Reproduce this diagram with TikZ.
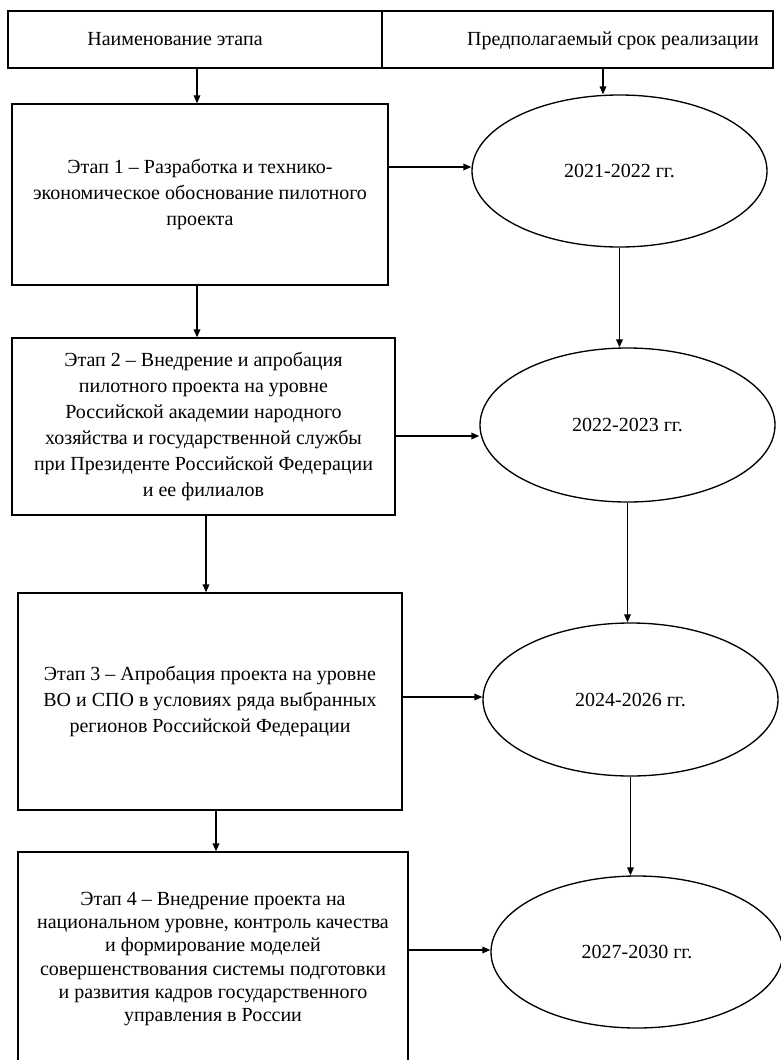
\documentclass[tikz,border=0pt]{standalone}
\usepackage{fontspec}
\setmainfont{Liberation Serif}
\usetikzlibrary{arrows.meta,shapes.geometric}
\tikzset{
  ln/.style={draw=black, line width=1pt},
  cell/.style={ln, rectangle, inner sep=0pt},
  stagebox/.style={ln, rectangle, inner sep=0pt, align=center, font=\fontsize{15}{19.5}\selectfont},
  period/.style={ln, ellipse, inner sep=0pt, font=\fontsize{15}{18}\selectfont},
  lbl/.style={inner sep=0pt, anchor=base, font=\fontsize{15}{18}\selectfont},
  arr/.style={ln, -{Triangle[length=6pt,width=5pt]}}
}
\begin{document}
\begin{tikzpicture}[x=0.75pt, y=-0.75pt]
\useasboundingbox (0,0) rectangle (781,1060);
\clip (0,0) rectangle (781,1060);
% header
\node[cell, minimum width=280.5pt, minimum height=42.75pt] (hL) at (195,39.5) {};
\node[cell, minimum width=293.25pt, minimum height=42.75pt] (hR) at (577.5,39.5) {};
\node[lbl] (hLt) at (175,45) {Наименование этапа};
\node[lbl] (hRt) at (613,45) {Предполагаемый срок реализации};
% stage boxes
\node[stagebox, minimum width=282pt, minimum height=135.75pt] (b1) at (200,194.5)
  {Этап 1 – Разработка и технико-\\экономическое обоснование пилотного\\проекта};
\node[stagebox, minimum width=287.25pt, minimum height=132.75pt] (b2) at (203.5,426.5)
  {Этап 2 – Внедрение и апробация\\пилотного проекта на уровне\\Российской академии народного\\хозяйства и государственной службы\\при Президенте Российской Федерации\\и ее филиалов};
\node[stagebox, minimum width=288pt, minimum height=162.75pt] (b3) at (210,701.5)
  {Этап 3 – Апробация проекта на уровне\\ВО и СПО в условиях ряда выбранных\\регионов Российской Федерации};
\node[stagebox, minimum width=292.5pt, minimum height=160.5pt, font=\fontsize{15}{17.4}\selectfont] (b4) at (213,959)
  {Этап 4 – Внедрение проекта на\\национальном уровне, контроль качества\\и формирование моделей\\совершенствования системы подготовки\\и развития кадров государственного\\управления в России};
% period ellipses
\node[period, minimum width=221.25pt, minimum height=114pt] (e1) at (619.5,171) {2021-2022 гг.};
\node[period, minimum width=221.25pt, minimum height=115.5pt] (e2) at (627.5,425) {2022-2023 гг.};
\node[period, minimum width=221.25pt, minimum height=114.75pt] (e3) at (630.5,699.5) {2024-2026 гг.};
\node[period, minimum width=219pt, minimum height=114pt] (e4) at (637,952) {2027-2030 гг.};
% arrows from header
\draw[arr] (hL.south -| 197,0) -- (b1.north -| 197,0);
\draw[arr] (hR.south -| 603,0) -- (e1.north -| 603,0);
% stage to stage
\draw[arr] (b1.south -| 197,0) -- (b2.north -| 197,0);
\draw[arr] (b2.south -| 206,0) -- (b3.north -| 206,0);
\draw[arr] (b3.south -| 216,0) -- (b4.north -| 216,0);
% period to period
\draw[arr] (e1.south) -- (e1.south |- e2.north);
\draw[arr] (e2.south) -- (e2.south |- e3.north);
\draw[arr] (e3.south) -- (e3.south |- e4.north);
% stage to period
\draw[arr] (b1.east |- 0,167) -- (e1.west |- 0,167);
\draw[arr] (b2.east |- 0,436) -- (e2.west |- 0,436);
\draw[arr] (b3.east |- 0,697) -- (e3.west |- 0,697);
\draw[arr] (b4.east |- 0,950) -- (e4.west |- 0,950);
\end{tikzpicture}
\end{document}
